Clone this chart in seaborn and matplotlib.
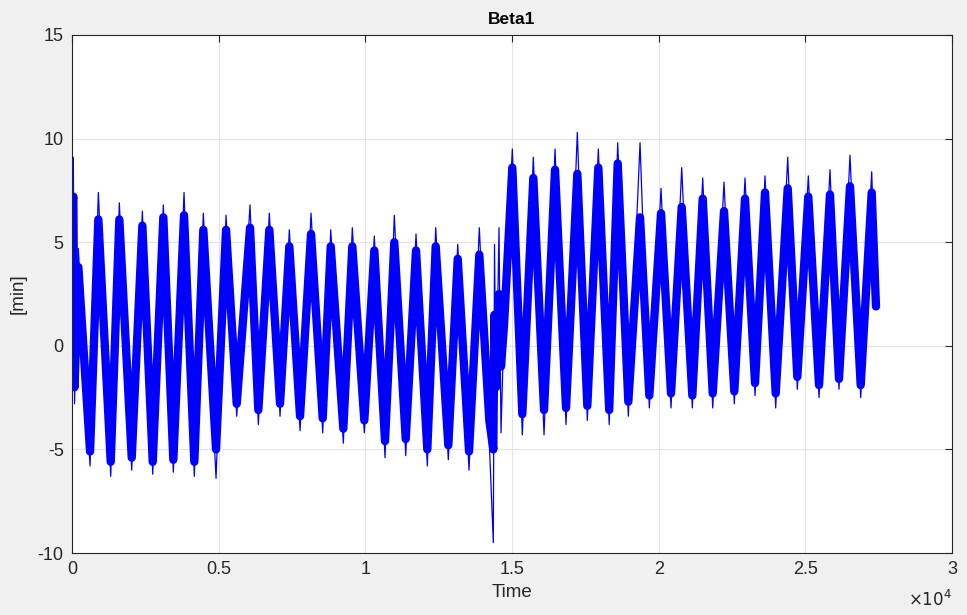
import matplotlib
matplotlib.use("Agg")
import matplotlib.pyplot as plt
from matplotlib.ticker import FuncFormatter, MultipleLocator
import pandas as pd
import seaborn as sns

# ---------------------------
# Data: turning points of the Beta1 signal
# ---------------------------
time = [20, 44, 85, 215, 614, 897, 1319, 1612, 2035, 2397, 2751, 3112, 3453, 3818,
        4169, 4476, 4909, 5250, 5614, 6068, 6351, 6726, 7091, 7408, 7773, 8148,
        8546, 8819, 9249, 9555, 9964, 10305, 10670, 10987, 11376, 11727, 12112,
        12398, 12828, 13149, 13534, 13885, 14226, 14362, 14403, 14454, 14556,
        14624, 14727, 15010, 15351, 15726, 16091, 16466, 16841, 17226, 17567,
        17942, 18313, 18603, 18965, 19364, 19681, 20080, 20420, 20785, 21147,
        21501, 21842, 22227, 22578, 22943, 23284, 23625, 23989, 24399, 24726,
        25101, 25466, 25840, 26147, 26522, 26887, 27262, 27408]

# outer tips (thin spikes)
spike = [7.0, 9.1, -2.8, 4.7, -5.8, 7.4, -6.3, 6.9, -6.0, 6.5, -6.2, 6.8, -6.1, 7.4,
         -6.3, 6.4, -6.4, 6.3, -3.4, 6.8, -3.8, 6.4, -3.4, 5.6, -4.1, 6.4,
         -4.2, 5.6, -4.7, 5.7, -4.2, 5.3, -5.4, 6.3, -5.3, 5.4, -5.8,
         5.7, -5.5, 4.9, -6.0, 5.7, -4.7, -9.5, 4.9, -3.0, 5.7,
         -4.2, 1.0, 9.5, -4.3, 9.1, -4.3, 9.5, -3.8, 10.3, -3.6,
         9.5, -3.8, 9.8, -3.4, 9.8, -3.0, 7.6, -3.0, 8.6, -3.0,
         8.1, -3.0, 7.9, -2.8, 8.1, -2.4, 8.2, -3.0, 9.1, -2.1,
         8.2, -2.5, 8.5, -2.1, 9.2, -2.5, 8.4, 1.9]

# dense band extremes
band = [7.0, 7.2, -2.0, 3.8, -5.1, 6.1, -5.6, 6.1, -5.4, 5.8, -5.6, 6.2, -5.5, 6.3,
        -5.6, 5.6, -5.0, 5.6, -2.8, 5.7, -3.1, 5.6, -2.8, 4.8, -3.4, 5.4,
        -3.5, 4.8, -4.0, 4.8, -3.6, 4.6, -4.6, 5.0, -4.5, 4.6, -5.0,
        4.8, -4.8, 4.2, -5.1, 4.4, -3.6, -5.0, 1.5, -2.0, 2.5,
        -1.0, 1.0, 8.6, -3.3, 8.1, -3.1, 8.5, -3.0, 8.3, -2.9,
        8.6, -3.1, 8.8, -2.7, 6.2, -2.4, 6.4, -2.3, 6.7, -2.4,
        7.1, -2.3, 6.5, -2.2, 7.1, -1.8, 7.4, -2.3, 7.6, -1.5,
        7.2, -1.9, 7.3, -1.6, 7.7, -1.9, 7.4, 1.9]

df = pd.DataFrame({"Time": time, "spike": spike, "band": band})

# ---------------------------
# Style (MATLAB-like)
# ---------------------------
sns.set_style("whitegrid")
plt.rcParams["font.family"] = ["Liberation Sans", "DejaVu Sans"]
plt.rcParams["axes.unicode_minus"] = False

fig = plt.figure(figsize=(9.67, 6.15), dpi=100, facecolor="#f0f0f0")
ax = fig.add_axes([0.0745, 0.1008, 0.91, 0.8423])
ax.set_facecolor("white")

sns.lineplot(data=df, x="Time", y="band", ax=ax, color="#0000ff", lw=6,
             estimator=None, sort=False, solid_joinstyle="round")
sns.lineplot(data=df, x="Time", y="spike", ax=ax, color="#0000ff", lw=0.9,
             estimator=None, sort=False)

ax.set_xlim(0, 30000)
ax.set_ylim(-10, 15)
ax.xaxis.set_major_locator(MultipleLocator(5000))
ax.yaxis.set_major_locator(MultipleLocator(5))
ax.xaxis.set_major_formatter(FuncFormatter(lambda v, _: f"{v / 1e4:g}"))

ax.grid(True, color="#e3e3e3", lw=0.8)
for s in ax.spines.values():
    s.set_color("#262626")
    s.set_linewidth(0.8)
    s.set_visible(True)

ax.tick_params(axis="both", direction="in", length=5, width=0.8, colors="#262626",
               labelsize=13, top=True, right=True, pad=6)

ax.set_title("Beta1", fontsize=12.5, fontweight="bold", color="#000000", pad=8)
ax.set_xlabel("Time", fontsize=13.5, color="#262626", labelpad=4)
ax.set_ylabel("[min]", fontsize=13.5, color="#262626", labelpad=8)
ax.text(1.0, -0.088, r"$\times10^{4}$", transform=ax.transAxes, ha="right",
        va="center", fontsize=12, color="#262626")

fig.savefig("out.png", dpi=100, facecolor=fig.get_facecolor())
